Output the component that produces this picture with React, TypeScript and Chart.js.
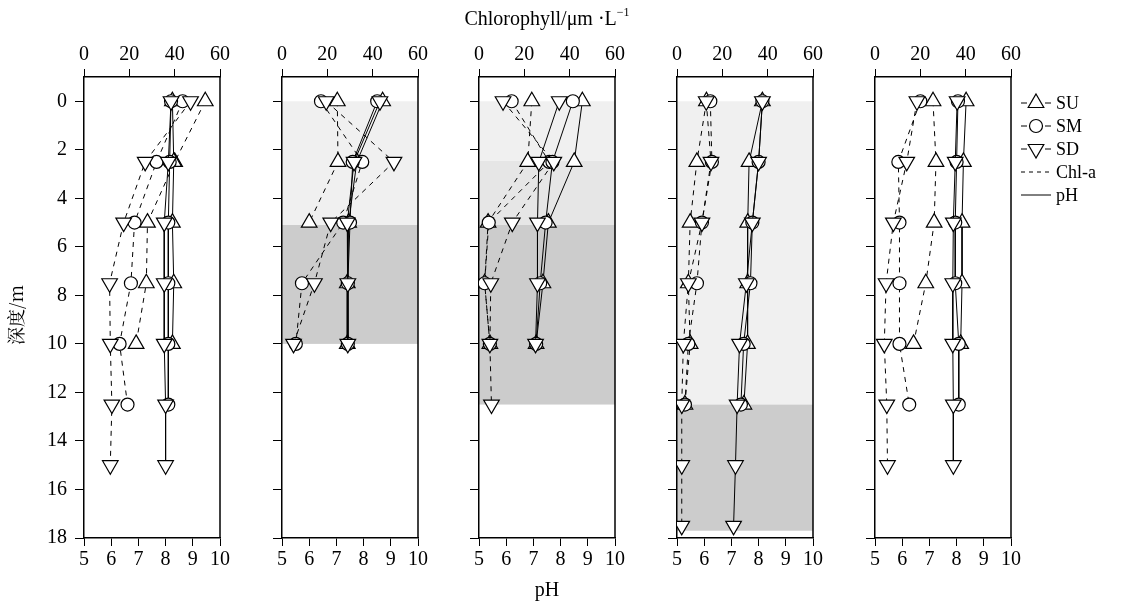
import React, { useEffect, useRef } from 'react';
import { Chart, registerables } from 'chart.js';
Chart.register(...registerables);

// ---- data ----
const depths = [0, 2.5, 5, 7.5, 10, 12.5, 15, 17.5];
const depthTicks = [0, 2, 4, 6, 8, 10, 12, 14, 16, 18];
const phTicks = [5, 6, 7, 8, 9, 10];
const chlTicks = [0, 20, 40, 60];

// panel 1
const chlSU1 = [53.5, 40, 28, 27.5, 23];
const chlSM1 = [43.5, 32, 22.3, 20.7, 15.7, 19.2];
const chlSD1 = [47, 27, 17.5, 11.3, 11.6, 12.3, 11.6];
const phSU1 = [8.25, 8.3, 8.25, 8.3, 8.25];
const phSM1 = [8.2, 8.15, 8.1, 8.1, 8.1, 8.1];
const phSD1 = [8.2, 8.1, 7.95, 7.95, 7.95, 8.0, 8.0];
// panel 2
const chlSU2 = [24.4, 24.7, 12];
const chlSM2 = [17.2, 35.4, 27, 8.8, 6.1];
const chlSD2 = [19.5, 49.4, 21.5, 14.3, 5.1];
const phSU2 = [8.7, 7.75, 7.45, 7.4, 7.4];
const phSM2 = [8.5, 7.6, 7.5, 7.42, 7.42];
const phSD2 = [8.6, 7.65, 7.4, 7.42, 7.42];
// panel 3
const chlSU3 = [23.3, 21.5, 4, 2.5, 4.8];
const chlSM3 = [14.4, 31, 4.3, 2.5, 4.8];
const chlSD3 = [10.6, 33, 14.7, 5.2, 4.8, 5.5];
const phSU3 = [8.8, 8.5, 7.55, 7.35, 7.1];
const phSM3 = [8.45, 7.7, 7.45, 7.25, 7.1];
const phSD3 = [7.95, 7.2, 7.15, 7.15, 7.08];
// panel 4
const chlSU4 = [13, 8.75, 5.8, 5, 5.8, 3.5];
const chlSM4 = [14.7, 15.4, 11, 8.8, 5, 3.5];
const chlSD4 = [12.9, 15, 11, 5, 2.8, 2.1, 2.1, 2.1];
const phSU4 = [8.14, 7.65, 7.6, 7.6, 7.59, 7.46];
const phSM4 = [8.14, 8.0, 7.77, 7.7, 7.45, 7.35];
const phSD4 = [8.14, 8.0, 7.77, 7.55, 7.3, 7.21, 7.15, 7.08];
// panel 5
const chlSU5 = [25.6, 26.9, 26.1, 22.4, 17];
const chlSM5 = [20, 10.3, 10.8, 10.8, 10.8, 15.1];
const chlSD5 = [18.5, 14, 8.1, 4.9, 4.1, 5.2, 5.5];
const phSU5 = [8.35, 8.25, 8.2, 8.2, 8.15];
const phSM5 = [8.05, 8.0, 7.95, 7.95, 8.08, 8.08];
const phSD5 = [8.02, 7.95, 7.88, 7.86, 7.86, 7.88, 7.88];

// shaded depth bands per panel: [from, to]
const bandsLight2 = [[0, 5.1]];
const bandsDark2 = [[5.1, 10]];
const bandsLight3 = [[0, 2.45]];
const bandsMid3 = [[2.45, 5.1]];
const bandsDark3 = [[5.1, 12.5]];
const bandsLight4 = [[0, 12.5]];
const bandsDark4 = [[12.5, 17.7]];

const panels = [
  { chl: [chlSU1, chlSM1, chlSD1], ph: [phSU1, phSM1, phSD1], light: [], mid: [], dark: [] },
  { chl: [chlSU2, chlSM2, chlSD2], ph: [phSU2, phSM2, phSD2], light: bandsLight2, mid: [], dark: bandsDark2 },
  { chl: [chlSU3, chlSM3, chlSD3], ph: [phSU3, phSM3, phSD3], light: bandsLight3, mid: bandsMid3, dark: bandsDark3 },
  { chl: [chlSU4, chlSM4, chlSD4], ph: [phSU4, phSM4, phSD4], light: bandsLight4, mid: [], dark: bandsDark4 },
  { chl: [chlSU5, chlSM5, chlSD5], ph: [phSU5, phSM5, phSD5], light: [], mid: [], dark: [] },
];

const seriesNames = ['SU', 'SM', 'SD'];

// ---- layout ----
const FONT = "'Liberation Serif', 'Times New Roman', serif";
const PLOT_W = 136;
const AXIS_W = 70;
const PLOT_TOP = 77;
const PLOT_BOTTOM = 538;
const PAGE_H = 606;
const PLOT_LEFTS = [84, 281.5, 479.3, 677, 875];

const markerFor = (i: number) =>
  i === 0 ? { pointStyle: 'triangle', rotation: 0, radius: 9 }
  : i === 1 ? { pointStyle: 'circle', rotation: 0, radius: 6.5 }
  : { pointStyle: 'triangle', rotation: 180, radius: 9 };

const shadePlugin = {
  id: 'shade',
  beforeDraw(chart: any) {
    const p = chart.options.plugins.shade;
    if (!p) return;
    const { ctx, chartArea } = chart;
    const y = chart.scales.y;
    const fillBands = (bands: number[][], color: string) => {
      bands.forEach(([a, b]) => {
        const y1 = y.getPixelForValue(a);
        const y2 = y.getPixelForValue(b);
        ctx.save();
        ctx.fillStyle = color;
        ctx.fillRect(chartArea.left, y1, chartArea.right - chartArea.left, y2 - y1);
        ctx.restore();
      });
    };
    fillBands(p.light, '#f0f0f0');
    fillBands(p.mid, '#e6e6e6');
    fillBands(p.dark, '#cccccc');
  },
};

const framePlugin = {
  id: 'frame',
  beforeDatasetsDraw(chart: any) {
    const { ctx, chartArea } = chart;
    ctx.save();
    ctx.strokeStyle = '#000';
    ctx.lineWidth = 1.5;
    ctx.beginPath();
    ctx.moveTo(chartArea.right, chartArea.top);
    ctx.lineTo(chartArea.right, chartArea.bottom);
    ctx.stroke();
    ctx.restore();
  },
};

function drawMarker(ctx: CanvasRenderingContext2D, style: string, r: number, rotDeg: number, x: number, y: number) {
  ctx.save();
  ctx.fillStyle = '#fff';
  ctx.strokeStyle = '#000';
  ctx.lineWidth = 1.2;
  ctx.beginPath();
  if (style === 'circle') {
    ctx.arc(x, y, r, 0, Math.PI * 2);
  } else {
    let rad = (rotDeg * Math.PI) / 180;
    const step = (2 * Math.PI) / 3;
    ctx.moveTo(x + Math.sin(rad) * r, y - Math.cos(rad) * r);
    rad += step;
    ctx.lineTo(x + Math.sin(rad) * r, y - Math.cos(rad) * r);
    rad += step;
    ctx.lineTo(x + Math.sin(rad) * r, y - Math.cos(rad) * r);
    ctx.closePath();
  }
  ctx.fill();
  ctx.stroke();
  ctx.restore();
}

const legendPlugin = {
  id: 'customLegend',
  afterDraw(chart: any) {
    const p = chart.options.plugins.customLegend;
    if (!p || !p.show) return;
    const { ctx } = chart;
    const x0 = 1021 - p.canvasLeft;
    const rows = [103, 126, 149, 172, 195];
    ctx.save();
    ctx.strokeStyle = '#000';
    ctx.fillStyle = '#000';
    ctx.lineWidth = 1;
    ctx.font = `18px ${FONT}`;
    ctx.textBaseline = 'middle';
    for (let i = 0; i < 3; i++) {
      const yy = rows[i];
      ctx.beginPath();
      ctx.moveTo(x0, yy);
      ctx.lineTo(x0 + 6, yy);
      ctx.moveTo(x0 + 24, yy);
      ctx.lineTo(x0 + 30, yy);
      ctx.stroke();
      const m = markerFor(i);
      drawMarker(ctx, m.pointStyle, m.radius, m.rotation, x0 + 15, yy);
      ctx.fillStyle = '#000';
      ctx.fillText(seriesNames[i], x0 + 35, yy + 1);
    }
    ctx.beginPath();
    ctx.setLineDash([4, 4]);
    ctx.moveTo(x0, rows[3]);
    ctx.lineTo(x0 + 30, rows[3]);
    ctx.stroke();
    ctx.setLineDash([]);
    ctx.fillText('Chl-a', x0 + 35, rows[3] + 1);
    ctx.beginPath();
    ctx.moveTo(x0, rows[4]);
    ctx.lineTo(x0 + 30, rows[4]);
    ctx.stroke();
    ctx.fillText('pH', x0 + 35, rows[4] + 1);
    ctx.restore();
  },
};

function toPoints(vals: number[]) {
  return vals.map((v, i) => ({ x: v, y: depths[i] })).filter((p) => p.x !== null && p.x !== undefined);
}

function Panel({ index }: { index: number }) {
  const ref = useRef<HTMLCanvasElement>(null);
  const isLast = index === panels.length - 1;
  const canvasLeft = PLOT_LEFTS[index] - AXIS_W;
  const width = isLast ? 1129 - canvasLeft : AXIS_W + PLOT_W + 30;
  const padRight = width - AXIS_W - PLOT_W;

  useEffect(() => {
    const panel = panels[index];
    const datasets: any[] = [];
    const make = (arr: number[], i: number, isChl: boolean) => {
      const m = markerFor(i);
      return {
        label: (isChl ? 'Chl ' : 'pH ') + seriesNames[i],
        data: toPoints(arr),
        xAxisID: isChl ? 'x2' : 'x',
        yAxisID: 'y',
        showLine: true,
        order: 3 - i,
        borderColor: '#000',
        borderWidth: 1,
        borderDash: isChl ? [5, 5] : [],
        backgroundColor: '#fff',
        pointStyle: m.pointStyle,
        rotation: m.rotation,
        pointRadius: m.radius,
        pointBackgroundColor: '#fff',
        pointBorderColor: '#000',
        pointBorderWidth: 1.2,
      };
    };
    panel.ph.forEach((arr, i) => datasets.push(make(arr, i, false)));
    panel.chl.forEach((arr, i) => datasets.push(make(arr, i, true)));

    const tickFont = { family: FONT, size: 20 };
    const chart = new Chart(ref.current!, {
      type: 'scatter',
      data: { datasets },
      options: {
        animation: false,
        responsive: false,
        maintainAspectRatio: false,
        events: [],
        layout: { padding: { left: 0, top: 0, right: padRight, bottom: 0 } },
        plugins: {
          legend: { display: false },
          tooltip: { enabled: false },
          shade: { light: panel.light, mid: panel.mid, dark: panel.dark },
          customLegend: { show: isLast, canvasLeft },
        } as any,
        scales: {
          x: {
            type: 'linear',
            position: 'bottom',
            min: 5,
            max: 10,
            afterBuildTicks: (s: any) => { s.ticks = phTicks.map((v) => ({ value: v })); },
            afterFit: (s: any) => { s.height = PAGE_H - PLOT_BOTTOM; },
            ticks: { color: '#000', font: tickFont, padding: 2, maxRotation: 0, autoSkip: false },
            grid: { drawOnChartArea: false, drawTicks: true, tickLength: 8, color: '#000', lineWidth: 1 },
            border: { display: true, color: '#000', width: 1.5 },
          },
          x2: {
            type: 'linear',
            position: 'top',
            min: 0,
            max: 60,
            afterBuildTicks: (s: any) => { s.ticks = chlTicks.map((v) => ({ value: v })); },
            afterFit: (s: any) => { s.height = PLOT_TOP; },
            ticks: { color: '#000', font: tickFont, padding: 2, maxRotation: 0, autoSkip: false },
            grid: { drawOnChartArea: false, drawTicks: true, tickLength: 8, color: '#000', lineWidth: 1 },
            border: { display: true, color: '#000', width: 1.5 },
          },
          y: {
            type: 'linear',
            position: 'left',
            reverse: true,
            min: -1,
            max: 18,
            afterBuildTicks: (s: any) => { s.ticks = depthTicks.map((v) => ({ value: v })); },
            afterFit: (s: any) => { s.width = AXIS_W; },
            ticks: {
              color: '#000',
              font: tickFont,
              padding: 8,
              autoSkip: false,
              callback: (v: any) => (index === 0 ? String(v) : ''),
            },
            grid: { drawOnChartArea: false, drawTicks: true, tickLength: 9, color: '#000', lineWidth: 1 },
            border: { display: true, color: '#000', width: 1.5 },
          },
        },
      } as any,
      plugins: [shadePlugin, framePlugin, legendPlugin],
    });
    return () => chart.destroy();
  }, [index]);

  return (
    <canvas
      ref={ref}
      width={width}
      height={PAGE_H}
      style={{ position: 'absolute', left: canvasLeft, top: 0, width, height: PAGE_H }}
    />
  );
}

export default function App() {
  return (
    <div style={{ position: 'absolute', left: 0, top: 0, width: 1129, height: 606, background: '#fff', fontFamily: FONT, overflow: 'hidden' }}>
      {panels.map((_, i) => (
        <Panel key={i} index={i} />
      ))}
      <div style={{ position: 'absolute', left: 347, width: 400, top: 5, textAlign: 'center', fontSize: 20, lineHeight: '26px', color: '#000' }}>
        Chlorophyll/μm ·L<sup style={{ fontSize: 12, verticalAlign: 'top', lineHeight: '14px' }}>−1</sup>
      </div>
      <div style={{ position: 'absolute', left: 447, width: 200, top: 577, textAlign: 'center', fontSize: 20, lineHeight: '24px', color: '#000' }}>
        pH
      </div>
      <div style={{ position: 'absolute', left: -35, width: 100, top: 303, textAlign: 'center', fontSize: 18, lineHeight: '24px', color: '#000', transform: 'rotate(-90deg)', fontFamily: "'Noto Serif CJK SC', 'Noto Sans CJK SC', serif" }}>
        深度/m
      </div>
    </div>
  );
}
